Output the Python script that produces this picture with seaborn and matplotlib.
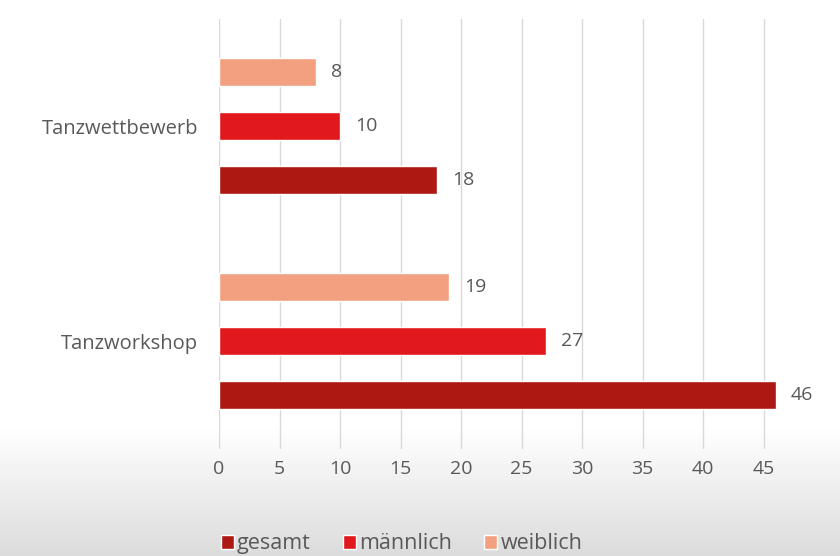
import numpy as np
import pandas as pd
import matplotlib.pyplot as plt
from matplotlib.patches import Patch
import seaborn as sns

# Werte aus dem Diagramm
CATEGORIES = ['Tanzwettbewerb', 'Tanzworkshop']
GESAMT = [18, 46]
MAENNLICH = [10, 27]
WEIBLICH = [8, 19]

SERIES = ['gesamt', 'männlich', 'weiblich']
COLORS = {'gesamt': '#AE1812', 'männlich': '#E2191C', 'weiblich': '#F2A07F'}
TEXT_COLOR = '#595959'

df = pd.DataFrame({
    'Kategorie': CATEGORIES * 3,
    'Serie': ['gesamt'] * 2 + ['männlich'] * 2 + ['weiblich'] * 2,
    'Anzahl': GESAMT + MAENNLICH + WEIBLICH,
})

sns.set_theme(style='white')
plt.rcParams['font.family'] = ['Open Sans', 'DejaVu Sans']

fig = plt.figure(figsize=(8.4, 5.56), dpi=100)

# Hintergrund mit leichtem Verlauf nach unten
bg = fig.add_axes([0, 0, 1, 1], zorder=-1)
h = 556
grad = np.ones(h)
start = 425
ramp = np.linspace(0, 1, h - start)
grad[start:] = 1 - 0.14 * ramp
bg.imshow(grad[:, None], aspect='auto', cmap='gray', vmin=0, vmax=1,
          extent=[0, 1, 0, 1], origin='upper')
bg.axis('off')

ax = fig.add_axes([219 / 840, (556 - 448.5) / 556, 1 - 219 / 840, 430 / 556])
ax.set_facecolor('none')

sns.barplot(data=df, y='Kategorie', x='Anzahl', hue='Serie', orient='h',
            order=CATEGORIES, hue_order=['weiblich', 'männlich', 'gesamt'],
            palette=COLORS, saturation=1, width=0.75, gap=0.48, ax=ax,
            legend=False)

for cont in ax.containers:
    ax.bar_label(cont, padding=11, fontsize=14, color=TEXT_COLOR)

ax.set_xlim(0, (840 - 219) / 12.1)
ax.set_ylim(1.5, -0.5)
ax.set_xticks(range(0, 50, 5))
ax.grid(axis='x', color='#d9d9d9', linewidth=1)
ax.set_axisbelow(True)
for s in ax.spines.values():
    s.set_visible(False)
ax.set_xlabel('')
ax.set_ylabel('')
ax.tick_params(axis='x', length=0, pad=8, labelsize=14, labelcolor=TEXT_COLOR)
ax.tick_params(axis='y', length=0, pad=15, labelsize=14.5, labelcolor=TEXT_COLOR)

handles = [Patch(facecolor=COLORS[s], label=s) for s in SERIES]
leg = fig.legend(handles=handles, loc='center', bbox_to_anchor=(0.478, 0.022),
                 ncol=3, frameon=False, fontsize=15.5, handlelength=0.6,
                 handleheight=0.6, handletextpad=0.15, columnspacing=1.5)
for t in leg.get_texts():
    t.set_color(TEXT_COLOR)

fig.savefig('out.png', dpi=100)
